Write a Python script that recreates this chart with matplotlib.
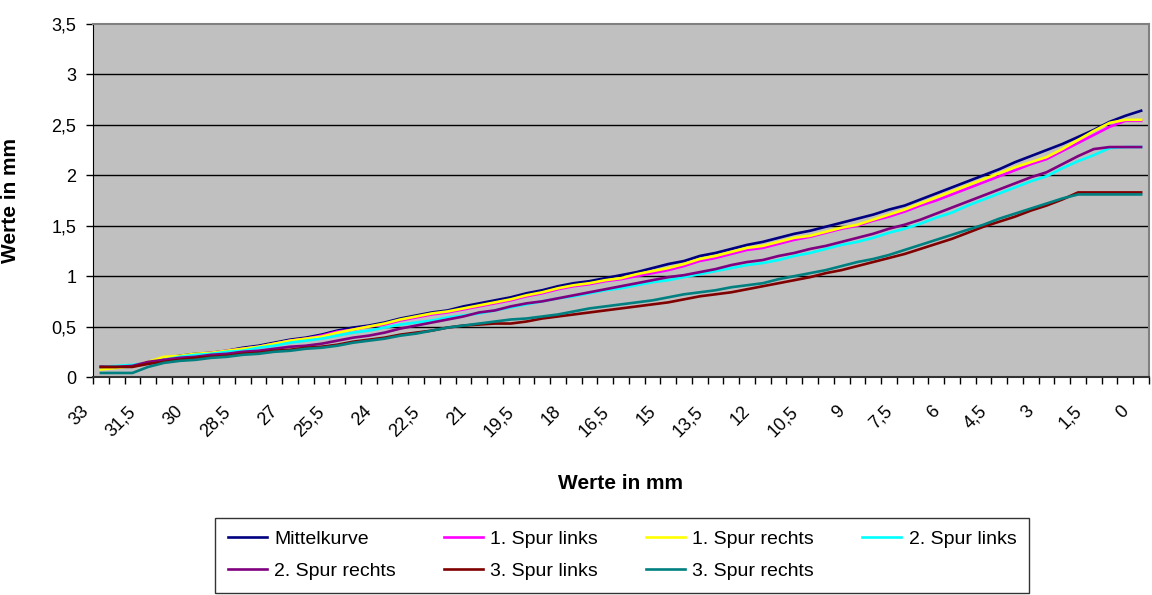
import numpy as np
import matplotlib
matplotlib.use("Agg")
import matplotlib.pyplot as plt
from matplotlib.transforms import ScaledTranslation

plt.rcParams['font.family'] = ['Liberation Sans', 'DejaVu Sans']

# Messpositionen in mm (33 -> 0, Schritt 0,5)
positions = [33 - 0.5 * i for i in range(67)]

mittelkurve = [0.10, 0.10, 0.11, 0.14, 0.19, 0.21, 0.23, 0.24, 0.26, 0.29,
               0.31, 0.34, 0.37, 0.39, 0.42, 0.46, 0.49, 0.51, 0.54, 0.58,
               0.61, 0.64, 0.66, 0.70, 0.73, 0.76, 0.79, 0.83, 0.86, 0.90,
               0.93, 0.95, 0.98, 1.01, 1.04, 1.08, 1.12, 1.15, 1.20, 1.23,
               1.27, 1.31, 1.34, 1.38, 1.42, 1.45, 1.49, 1.53, 1.57, 1.61,
               1.66, 1.70, 1.76, 1.82, 1.88, 1.94, 2.00, 2.06, 2.13, 2.19,
               2.25, 2.31, 2.38, 2.45, 2.53, 2.59, 2.64]
spur1_links = [0.10, 0.10, 0.11, 0.14, 0.18, 0.20, 0.22, 0.24, 0.26, 0.28,
               0.30, 0.33, 0.36, 0.38, 0.41, 0.45, 0.47, 0.50, 0.52, 0.56,
               0.59, 0.62, 0.64, 0.67, 0.70, 0.73, 0.76, 0.80, 0.83, 0.87,
               0.90, 0.92, 0.95, 0.97, 1.00, 1.03, 1.06, 1.10, 1.15, 1.18,
               1.22, 1.26, 1.28, 1.32, 1.36, 1.39, 1.43, 1.47, 1.50, 1.55,
               1.59, 1.64, 1.70, 1.75, 1.81, 1.87, 1.93, 1.99, 2.05, 2.11,
               2.16, 2.24, 2.32, 2.40, 2.48, 2.54, 2.54]
spur1_rechts = [0.075, 0.09, 0.11, 0.15, 0.20, 0.21, 0.23, 0.24, 0.26, 0.28,
                0.30, 0.33, 0.36, 0.38, 0.40, 0.44, 0.47, 0.50, 0.53, 0.57,
                0.60, 0.63, 0.65, 0.68, 0.71, 0.74, 0.77, 0.81, 0.84, 0.88,
                0.91, 0.93, 0.96, 0.98, 1.02, 1.05, 1.08, 1.12, 1.17, 1.20,
                1.24, 1.28, 1.30, 1.34, 1.38, 1.40, 1.44, 1.48, 1.51, 1.56,
                1.61, 1.66, 1.72, 1.78, 1.84, 1.90, 1.96, 2.02, 2.08, 2.13,
                2.18, 2.26, 2.35, 2.44, 2.52, 2.55, 2.55]
spur2_links = [0.10, 0.11, 0.12, 0.14, 0.17, 0.20, 0.22, 0.23, 0.25, 0.26,
               0.29, 0.31, 0.34, 0.36, 0.38, 0.41, 0.44, 0.46, 0.49, 0.52,
               0.54, 0.56, 0.59, 0.61, 0.63, 0.66, 0.69, 0.72, 0.75, 0.78,
               0.80, 0.83, 0.86, 0.88, 0.91, 0.94, 0.96, 0.99, 1.02, 1.05,
               1.08, 1.11, 1.13, 1.16, 1.20, 1.23, 1.27, 1.31, 1.34, 1.38,
               1.43, 1.47, 1.52, 1.58, 1.63, 1.70, 1.76, 1.82, 1.88, 1.94,
               1.99, 2.07, 2.14, 2.20, 2.27, 2.28, 2.28]
spur2_rechts = [0.10, 0.10, 0.11, 0.15, 0.17, 0.19, 0.20, 0.22, 0.23, 0.25,
                0.26, 0.28, 0.30, 0.31, 0.33, 0.36, 0.39, 0.41, 0.44, 0.48,
                0.51, 0.54, 0.57, 0.60, 0.64, 0.66, 0.70, 0.73, 0.75, 0.78,
                0.81, 0.84, 0.87, 0.90, 0.93, 0.96, 0.99, 1.01, 1.04, 1.07,
                1.11, 1.14, 1.16, 1.20, 1.23, 1.27, 1.30, 1.34, 1.38, 1.42,
                1.47, 1.51, 1.56, 1.62, 1.68, 1.74, 1.80, 1.86, 1.92, 1.98,
                2.03, 2.11, 2.19, 2.26, 2.28, 2.28, 2.28]
spur3_links = [0.10, 0.10, 0.10, 0.13, 0.15, 0.17, 0.19, 0.20, 0.21, 0.23,
               0.24, 0.26, 0.27, 0.29, 0.30, 0.32, 0.35, 0.37, 0.39, 0.42,
               0.44, 0.46, 0.49, 0.51, 0.52, 0.53, 0.53, 0.55, 0.58, 0.60,
               0.62, 0.64, 0.66, 0.68, 0.70, 0.72, 0.74, 0.77, 0.80, 0.82,
               0.84, 0.87, 0.90, 0.93, 0.96, 0.99, 1.03, 1.06, 1.10, 1.14,
               1.18, 1.22, 1.27, 1.32, 1.37, 1.43, 1.49, 1.54, 1.59, 1.65,
               1.70, 1.76, 1.83, 1.83, 1.83, 1.83, 1.83]
spur3_rechts = [0.04, 0.04, 0.04, 0.10, 0.14, 0.16, 0.17, 0.19, 0.20, 0.22,
                0.23, 0.25, 0.26, 0.28, 0.29, 0.31, 0.34, 0.36, 0.38, 0.41,
                0.43, 0.46, 0.49, 0.51, 0.53, 0.55, 0.57, 0.58, 0.60, 0.62,
                0.65, 0.68, 0.70, 0.72, 0.74, 0.76, 0.79, 0.82, 0.84, 0.86,
                0.89, 0.91, 0.93, 0.97, 1.00, 1.03, 1.06, 1.10, 1.14, 1.17,
                1.21, 1.26, 1.31, 1.36, 1.41, 1.46, 1.51, 1.57, 1.62, 1.67,
                1.72, 1.77, 1.81, 1.81, 1.81, 1.81, 1.81]

series = [
    ("Mittelkurve", mittelkurve, "#000080"),
    ("1. Spur links", spur1_links, "#FF00FF"),
    ("1. Spur rechts", spur1_rechts, "#FFFF00"),
    ("2. Spur links", spur2_links, "#00FFFF"),
    ("2. Spur rechts", spur2_rechts, "#800080"),
    ("3. Spur links", spur3_links, "#800000"),
    ("3. Spur rechts", spur3_rechts, "#008080"),
]


def fmt(v):
    return ("%g" % v).replace(".", ",")


W, H = 1152, 595
fig = plt.figure(figsize=(W / 100, H / 100), dpi=100)
left, right, top, bottom = 93, 1149, 24, 377
ax = fig.add_axes([left / W, 1 - bottom / H, (right - left) / W, (bottom - top) / H])
ax.set_facecolor("#C0C0C0")

x = np.arange(len(positions))
handles = []
for name, vals, col in series:
    ln, = ax.plot(x, vals, color=col, lw=1.9, label=name, solid_joinstyle="round")
    handles.append(ln)

ax.set_xlim(-0.5, len(positions) - 0.5)
ax.set_ylim(0, 3.5)

# y axis
yt = np.arange(0, 3.51, 0.5)
ax.set_yticks(yt)
ax.set_yticklabels([fmt(v) for v in yt], fontsize=13)
ax.tick_params(axis="y", direction="out", length=5, width=1, pad=7, color="black")
for v in yt[1:-1]:
    ax.axhline(v, color="black", lw=1, zorder=0.5)

# x axis: ticks between categories, label every 3rd category
ax.set_xticks(x[::3])
ax.set_xticklabels([fmt(p) for p in positions[::3]], fontsize=13,
                   rotation=45, ha="right", va="center", rotation_mode="anchor")
ax.set_xticks(np.arange(-0.5, len(positions), 1), minor=True)
ax.tick_params(axis="x", which="major", length=0, pad=23)
ax.tick_params(axis="x", which="minor", direction="out", length=5, width=1, color="black")
shift = ScaledTranslation(-15 / 100, 0, fig.dpi_scale_trans)
for lab in ax.get_xticklabels():
    lab.set_transform(lab.get_transform() + shift)

for side in ("top", "right"):
    ax.spines[side].set_color("#808080")
    ax.spines[side].set_linewidth(1.5)
ax.spines["left"].set_color("black")
ax.spines["bottom"].set_color("#333333")
ax.spines["bottom"].set_linewidth(1.5)

ax.set_xlabel("Werte in mm", fontsize=15, fontweight="bold")
ax.xaxis.set_label_coords(0.5, (bottom - 474) / (bottom - top))
ax.set_ylabel("Werte in mm", fontsize=15, fontweight="bold")
ax.yaxis.set_label_coords((20 - left) / (right - left), 0.5)

# legend, row-wise in 4 columns
order = [0, 4, 1, 5, 2, 6, 3]
leg = fig.legend([handles[i] for i in order], [series[i][0] for i in order],
                 ncol=4, loc="upper center", bbox_to_anchor=(622 / W, 1 - 508 / H),
                 fontsize=14, frameon=True, fancybox=False, edgecolor="black",
                 handlelength=2.0, handletextpad=0.4, columnspacing=2.45,
                 labelspacing=0.75, borderpad=0.65)
leg.get_frame().set_linewidth(1)

fig.savefig("out.png", dpi=100)
